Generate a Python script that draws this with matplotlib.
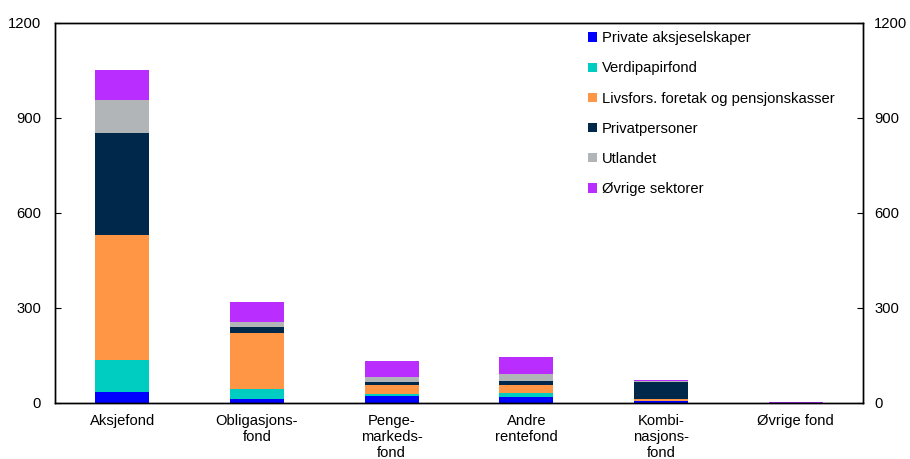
import numpy as np
import matplotlib.pyplot as plt
from matplotlib.patches import Patch

plt.rcParams['font.family'] = ['Liberation Sans', 'DejaVu Sans']
plt.rcParams['font.size'] = 10.6

categories = ['Aksjefond', 'Obligasjons-\nfond', 'Penge-\nmarkeds-\nfond',
              'Andre\nrentefond', 'Kombi-\nnasjons-\nfond', 'Øvrige fond']

# values per sector (stacked bottom to top)
private_aksjeselskaper = [35, 12, 22, 17, 5, 0.1]
verdipapirfond = [99, 31, 5, 12, 1, 0.0]
livsfors = [397, 178, 28, 27, 6, 0.2]
privatpersoner = [320, 18, 10, 13, 54, 0.0]
utlandet = [106, 15, 15, 21, 1, 0.0]
ovrige_sektorer = [93, 64, 53, 54, 5, 2.2]

series = [
    ('Private aksjeselskaper', private_aksjeselskaper, '#0000ff'),
    ('Verdipapirfond', verdipapirfond, '#00cdc1'),
    ('Livsfors. foretak og pensjonskasser', livsfors, '#ff9646'),
    ('Privatpersoner', privatpersoner, '#00284b'),
    ('Utlandet', utlandet, '#b2b5b8'),
    ('Øvrige sektorer', ovrige_sektorer, '#b92eff'),
]

yticks = [0, 300, 600, 900, 1200]

fig = plt.figure(figsize=(9.1, 4.59), dpi=100)
ax = fig.add_axes([0.0604, 0.1227, 0.888, 0.8278])

x = np.arange(len(categories))
bottom = np.zeros(len(categories))
handles = []
for name, vals, col in series:
    vals = np.array(vals, dtype=float)
    ax.bar(x, vals, width=0.4, bottom=bottom, color=col, edgecolor='none')
    bottom += vals
    handles.append(Patch(facecolor=col, label=name))

ax.set_xlim(-0.5, 5.5)
ax.set_ylim(0, 1200)
ax.set_yticks(yticks)
ax.set_xticks(x)
ax.set_xticklabels(categories, linespacing=1.2)
ax.tick_params(axis='x', length=0, pad=8)
ax.tick_params(axis='y', direction='in', length=4, pad=10)

ax2 = ax.twinx()
ax2.set_ylim(0, 1200)
ax2.set_yticks(yticks)
ax2.tick_params(axis='y', direction='in', length=4, pad=8)

for a in (ax, ax2):
    for s in a.spines.values():
        s.set_linewidth(1.0)
        s.set_color('black')

leg = ax.legend(handles=handles, loc='upper left', bbox_to_anchor=(0.646, 0.932),
                bbox_transform=fig.transFigure, frameon=False,
                handlelength=0.6, handleheight=0.6, handletextpad=0.35,
                labelspacing=1.1, borderpad=0, borderaxespad=0)

fig.savefig('out.png', dpi=100)
